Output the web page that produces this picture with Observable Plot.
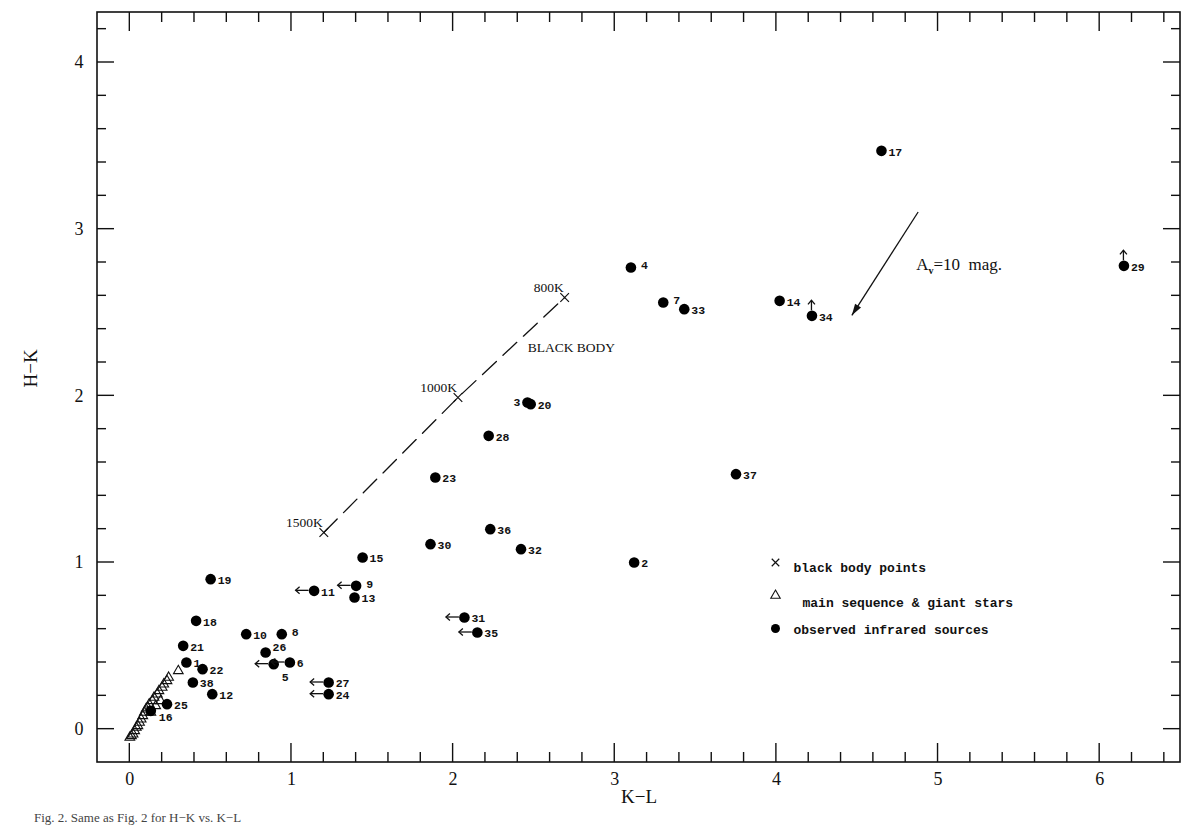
<!DOCTYPE html>
<html><head><meta charset="utf-8">
<script src="https://cdn.jsdelivr.net/npm/d3@7"></script>
<script src="https://cdn.jsdelivr.net/npm/@observablehq/plot@0.6"></script>
<style>
body{margin:0;background:#fff;}
#chart{position:absolute;left:0;top:0;}
#cap{position:absolute;left:34px;top:810px;font:13px/15px "Liberation Serif",serif;color:#444;white-space:nowrap;}
</style>
</head><body>
<div id="chart"></div>
<div id="cap">Fig. 2. Same as Fig. 2 for H−K vs. K−L</div>
<script>
// Observed infrared sources
const sourceIds = ["17","4","7","33","14","34","29","3","20","28","23","37","36","30","32","2","15","9","13","11","31","35","19","18","10","8","21","26","6","5","1","22","38","12","27","24","25","16"];
const sourceKL  = [4.65,3.10,3.30,3.43,4.02,4.22,6.15,2.46,2.48,2.22,1.89,3.75,2.23,1.86,2.42,3.12,1.44,1.40,1.39,1.14,2.07,2.15,0.50,0.41,0.72,0.94,0.33,0.84,0.99,0.89,0.35,0.45,0.39,0.51,1.23,1.23,0.23,0.13];
const sourceHK  = [3.47,2.77,2.56,2.52,2.57,2.48,2.78,1.96,1.95,1.76,1.51,1.53,1.20,1.11,1.08,1.00,1.03,0.86,0.79,0.83,0.67,0.58,0.90,0.65,0.57,0.57,0.50,0.46,0.40,0.39,0.40,0.36,0.28,0.21,0.28,0.21,0.15,0.11];
const sourceLimit = ["","","","","","up","up","","","","","","","","","","","left","","left","left","left","","","","","","","left","left","","","","","left","left","",""];

// Main sequence & giant stars
const starKL = [0.00,0.01,0.02,0.03,0.04,0.05,0.06,0.07,0.08,0.09,0.10,0.11,0.12,0.14,0.15,0.17,0.18,0.20,0.21,0.23,0.24,0.30,0.16,0.19,0.13];
const starHK = [-0.05,-0.04,-0.03,-0.01,0.01,0.02,0.04,0.06,0.08,0.10,0.12,0.13,0.15,0.17,0.19,0.21,0.23,0.25,0.27,0.29,0.31,0.35,0.14,0.17,0.10];

// Black body points
const bbTemps = ["1500K","1000K","800K"];
const bbKL = [1.20,2.03,2.69];
const bbHK = [1.18,1.99,2.59];

// Reddening vector A_v = 10 mag
const reddenKL = [4.88,4.47];
const reddenHK = [3.10,2.48];

// Axes
const xDomain = [-0.2,6.5];
const yDomain = [-0.2,4.3];
const xTickLabels = [0,1,2,3,4,5,6];
const yTickLabels = [0,1,2,3,4];

const legendLabels = ["black body points","main sequence & giant stars","observed infrared sources"];

const sources = sourceIds.map((id,i)=>({id,kl:sourceKL[i],hk:sourceHK[i],lim:sourceLimit[i]}));
const stars = starKL.map((k,i)=>({kl:k,hk:starHK[i]}));
const bb = bbTemps.map((t,i)=>({t,kl:bbKL[i],hk:bbHK[i]}));

// label placement styles (pixel offsets)
const labelStyles = {
  def:  {dx: 7, dy: 1, anchor: "start"},
  left: {dx: -7, dy: 0, anchor: "end"},
  below:{dx: 8, dy: 13, anchor: "start"},
  above:{dx: 7, dy: -5, anchor: "start"},
  lower:{dx: 8, dy: 6, anchor: "start"},
  wide: {dx: 10, dy: -2, anchor: "start"}
};
const labelStyleOf = {"3":"left","5":"below","26":"above","16":"lower","8":"wide","4":"wide","7":"wide","9":"wide"};
const styleKey = d => labelStyleOf[d.id] || "def";

const serif = "'Liberation Serif', 'DejaVu Serif', serif";
const mono = "'Liberation Mono', 'DejaVu Sans Mono', monospace";

function frameTicks(index, scales, values, dims) {
  const {x, y} = scales;
  const L = dims.marginLeft, R = dims.width - dims.marginRight, T = dims.marginTop, B = dims.height - dims.marginBottom;
  const g = d3.create("svg:g").attr("stroke","#111").attr("stroke-width",1.4).attr("fill","none");
  g.append("rect").attr("x",L).attr("y",T).attr("width",R-L).attr("height",B-T).attr("stroke-width",1.6);
  const near = (v) => Math.abs(v - Math.round(v)) < 1e-6;
  const xt = d3.range(0, 6.5, 0.2).map(v=>+v.toFixed(1));
  for (const v of xt) {
    const px = x(v), len = near(v) ? 19 : 10;
    g.append("line").attr("x1",px).attr("x2",px).attr("y1",B).attr("y2",B-len);
    g.append("line").attr("x1",px).attr("x2",px).attr("y1",T).attr("y2",T+len);
  }
  const yt = d3.range(0, 4.3, 0.2).map(v=>+v.toFixed(1));
  for (const v of yt) {
    const py = y(v), len = near(v) ? 17 : 9;
    g.append("line").attr("y1",py).attr("y2",py).attr("x1",L).attr("x2",L+len);
    g.append("line").attr("y1",py).attr("y2",py).attr("x1",R).attr("x2",R-len);
  }
  return g.node();
}

function limitArrows(index, scales) {
  const {x, y} = scales;
  const g = d3.create("svg:g").attr("stroke","#111").attr("stroke-width",1.3).attr("fill","none");
  for (const d of sources) {
    const px = x(d.kl), py = y(d.hk);
    if (d.lim === "left") {
      const a = px - 5, b = px - 18;
      g.append("line").attr("x1",a).attr("y1",py).attr("x2",b).attr("y2",py);
      g.append("path").attr("d",`M${b+4},${py-3.5}L${b},${py}L${b+4},${py+3.5}`);
    } else if (d.lim === "up") {
      const a = py - 5, b = py - 15;
      g.append("line").attr("x1",px).attr("y1",a).attr("x2",px).attr("y2",b);
      g.append("path").attr("d",`M${px-3.5},${b+4}L${px},${b}L${px+3.5},${b+4}`);
    }
  }
  return g.node();
}

function annotations(index, scales) {
  const {x, y} = scales;
  const g = d3.create("svg:g");
  const x1 = x(reddenKL[0]), y1 = y(reddenHK[0]), x2 = x(reddenKL[1]), y2 = y(reddenHK[1]);
  g.append("line").attr("x1",x1).attr("y1",y1).attr("x2",x2).attr("y2",y2).attr("stroke","#111").attr("stroke-width",1.3);
  const ang = Math.atan2(y2-y1, x2-x1), hl = 12, hw = 0.3;
  const p1 = [x2 - hl*Math.cos(ang-hw), y2 - hl*Math.sin(ang-hw)];
  const p2 = [x2 - hl*Math.cos(ang+hw), y2 - hl*Math.sin(ang+hw)];
  g.append("path").attr("d",`M${p1}L${x2},${y2}L${p2}Z`).attr("fill","#111");
  const t = g.append("text").attr("x", x1 - 2).attr("y", y1 + 58).attr("text-anchor","start")
    .attr("font-family", serif).attr("font-size", 17).attr("fill","#111").style("white-space","pre");
  t.append("tspan").text("A");
  t.append("tspan").text("v").attr("font-size",10).attr("dy",4).attr("font-weight","bold");
  t.append("tspan").text("=10  mag.").attr("dy",-4);
  return g.node();
}

const labelMarks = Object.entries(labelStyles).map(([key, s]) =>
  Plot.text(sources.filter(d => styleKey(d) === key), {
    x: "kl", y: "hk", text: "id", dx: s.dx, dy: s.dy, textAnchor: s.anchor,
    fontSize: 11.5, fontWeight: "bold", fontFamily: mono, fill: "#111"
  })
);

const chart = Plot.plot({
  width: 1200,
  height: 812,
  marginLeft: 97,
  marginRight: 20,
  marginTop: 12,
  marginBottom: 50,
  x: {domain: xDomain},
  y: {domain: yDomain},
  style: {background: "#fff", color: "#111"},
  marks: [
    Plot.axisX({ticks: xTickLabels, tickFormat: "d", tickSize: 0, tickPadding: 10, fontSize: 18, fontFamily: serif, label: null}),
    Plot.axisY({ticks: yTickLabels, tickFormat: "d", tickSize: 0, tickPadding: 14, fontSize: 18, fontFamily: serif, label: null}),
    frameTicks,
    Plot.text(["K−L"], {frameAnchor: "bottom", dy: 40, fontSize: 19, fontFamily: serif, fill: "#111"}),
    Plot.text(["H−K"], {frameAnchor: "left", dx: -67, rotate: -90, fontSize: 19, fontFamily: serif, fill: "#111"}),
    // black body
    Plot.line(bb, {x: "kl", y: "hk", stroke: "#111", strokeWidth: 1.3, strokeDasharray: "19,9"}),
    Plot.dot(bb, {x: "kl", y: "hk", symbol: "times", r: 4, stroke: "#111", strokeWidth: 1.2}),
    Plot.text(bb, {x: "kl", y: "hk", text: "t", dx: -1, dy: -10, textAnchor: "end", fontSize: 13.5, fontFamily: serif, fill: "#111"}),
    Plot.text(["BLACK BODY"], {x: [bbKL[2]], y: [bbHK[2]], dx: -37, dy: 50, textAnchor: "start", fontSize: 13.5, fontFamily: serif, fill: "#111"}),
    // main sequence stars
    Plot.dot(stars, {x: "kl", y: "hk", symbol: "triangle", r: 3.6, stroke: "#111", strokeWidth: 1.1, fill: "none"}),
    // sources
    Plot.dot(sources, {x: "kl", y: "hk", r: 5.3, fill: "#000"}),
    limitArrows,
    ...labelMarks,
    annotations,
    // legend
    Plot.dot([0], {frameAnchor: "top-left", dx: 678, dy: 550, symbol: "times", r: 3.5, stroke: "#111", strokeWidth: 1.2}),
    Plot.dot([0], {frameAnchor: "top-left", dx: 678, dy: 583, symbol: "triangle", r: 3.5, stroke: "#111", strokeWidth: 1.1, fill: "none"}),
    Plot.dot([0], {frameAnchor: "top-left", dx: 678, dy: 616, r: 4.5, fill: "#000"}),
    Plot.text([legendLabels[0]], {frameAnchor: "top-left", dx: 696, dy: 550, textAnchor: "start", fontSize: 13, fontWeight: "bold", fontFamily: mono, fill: "#111"}),
    Plot.text([legendLabels[1]], {frameAnchor: "top-left", dx: 705, dy: 585, textAnchor: "start", fontSize: 13, fontWeight: "bold", fontFamily: mono, fill: "#111"}),
    Plot.text([legendLabels[2]], {frameAnchor: "top-left", dx: 696, dy: 612, textAnchor: "start", fontSize: 13, fontWeight: "bold", fontFamily: mono, fill: "#111"})
  ]
});
document.getElementById("chart").append(chart);
</script>
</body></html>
